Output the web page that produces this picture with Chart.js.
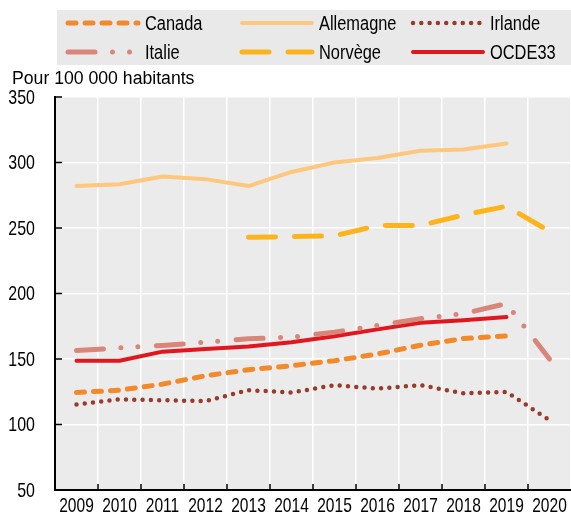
<!DOCTYPE html>
<html>
<head>
  <title>Pour 100 000 habitants</title>
  <script src="https://cdn.jsdelivr.net/npm/chart.js"></script>
  <style>
    body { margin: 0; background: white; }
    canvas { display: block; }
  </style>
</head>
<body>
  <canvas id="chart" width="571" height="517"></canvas>

  <script>
    // Data
    const years = ['2009','2010','2011','2012','2013','2014','2015','2016','2017','2018','2019','2020'];
    const canada    = [124.4, 126.2, 130.8, 137.2, 141.8, 144.9, 148.7, 153.8, 160.5, 165.6, 167.7, null];
    const allemagne = [282, 283.4, 289.3, 287.3, 282, 292.8, 300, 303.5, 308.9, 310, 314.5, null];
    const irlande   = [115.2, 119.2, 118.5, 117.9, 126.2, 124.4, 130, 127.4, 130, 123.8, 124.9, 103.3];
    const italie    = [156.4, 158.5, 160.3, 162.8, 165.4, 166.7, 170.5, 175.6, 180.8, 184.6, 192.3, 150];
    const norvege   = [null, null, null, null, 242.9, 243.4, 244.1, 251.8, 252, 259.9, 266.6, 247.5];
    const ocde33    = [148.7, 148.7, 155.6, 157.7, 159.5, 162.8, 167.4, 172.6, 177.7, 179.5, 182, null];
    const yTicks = [50, 100, 150, 200, 250, 300, 350];
    const unitLabel = 'Pour 100 000 habitants';

    const family = '"Liberation Sans", Arial, sans-serif';

    // the reference uses a narrow face: squeeze regular text sideways
    function narrowText(ctx, text, x, y, size, sx, align) {
      ctx.save();
      ctx.font = size + 'px ' + family;
      ctx.fillStyle = '#000';
      ctx.textBaseline = 'middle';
      ctx.textAlign = align;
      ctx.translate(x, y);
      ctx.scale(sx, 1);
      ctx.fillText(text, 0, 0);
      ctx.restore();
    }

    const plotBg = {
      id: 'plotBg',
      beforeDraw(chart) {
        const { ctx, chartArea: a } = chart;
        ctx.save();
        ctx.fillStyle = '#ebebeb';
        ctx.fillRect(a.left, a.top, a.right - a.left, a.bottom - a.top);
        ctx.restore();
      }
    };

    // inward tick marks, tick labels, legend box and unit label
    const extras = {
      id: 'extras',
      afterDraw(chart) {
        const { ctx, chartArea: a, scales } = chart;
        ctx.save();
        ctx.strokeStyle = '#000';
        ctx.lineWidth = 1.5;
        scales.y.ticks.forEach(t => {
          const y = scales.y.getPixelForValue(t.value);
          ctx.beginPath(); ctx.moveTo(a.left, y); ctx.lineTo(a.left + 7, y); ctx.stroke();
          narrowText(ctx, String(t.value), 35, y + 1, 21, 0.76, 'right');
        });
        const half = (scales.x.getPixelForValue(1) - scales.x.getPixelForValue(0)) / 2;
        years.forEach((yr, i) => {
          const cx = scales.x.getPixelForValue(i);
          narrowText(ctx, yr, cx, a.bottom + 16, 21, 0.74, 'center');
          if (i === 0) return;
          ctx.beginPath(); ctx.moveTo(cx - half, a.bottom); ctx.lineTo(cx - half, a.bottom - 6); ctx.stroke();
        });

        narrowText(ctx, unitLabel, 12, 79, 18, 0.98, 'left');

        // legend
        ctx.fillStyle = '#e9e9e9';
        ctx.fillRect(57, 10, 514, 55);
        const cols = [68, 242, 413];
        const rows = [23, 52];
        chart.data.datasets.forEach((ds, i) => {
          const x = cols[i % 3], y = rows[Math.floor(i / 3)];
          ctx.save();
          ctx.strokeStyle = ds.borderColor;
          ctx.lineWidth = ds.borderWidth;
          ctx.lineCap = 'round';
          ctx.setLineDash(ds.borderDash || []);
          ctx.beginPath(); ctx.moveTo(x, y); ctx.lineTo(x + 70, y); ctx.stroke();
          ctx.restore();
          narrowText(ctx, ds.label, x + 77, y + 1, 20, 0.82, 'left');
        });
        ctx.restore();
      }
    };

    const line = (label, data, color, width, dash) => ({
      label, data,
      borderColor: color,
      borderWidth: width,
      borderDash: dash,
      borderCapStyle: 'round',
      borderJoinStyle: 'round',
      pointRadius: 0,
      tension: 0,
      fill: false
    });

    new Chart(document.getElementById('chart'), {
      type: 'line',
      data: {
        labels: years,
        datasets: [
          line('Canada', canada, '#f28a2c', 5, [8, 9]),
          line('Allemagne', allemagne, '#fec77e', 4, []),
          line('Irlande', irlande, '#973c2c', 4.5, [0, 8.3]),
          line('Italie', italie, '#d9867a', 5, [27, 17.5, 0, 17, 0, 18.5]),
          line('Norvège', norvege, '#fdb41c', 5, [27, 19]),
          line('OCDE33', ocde33, '#e2161e', 4, [])
        ]
      },
      options: {
        responsive: false,
        animation: false,
        layout: { padding: { top: 97, right: 0, left: 0, bottom: 0 } },
        plugins: { legend: { display: false }, tooltip: { enabled: false } },
        scales: {
          x: {
            offset: true,
            grid: { offset: true, color: '#ffffff', lineWidth: 1.5, drawTicks: false },
            border: { color: '#000', width: 2 },
            ticks: { display: false, autoSkip: false },
            afterFit(s) { s.height = 27; }
          },
          y: {
            min: 50, max: 350,
            afterBuildTicks(s) { s.ticks = yTicks.map(v => ({ value: v })); },
            grid: { color: '#ffffff', lineWidth: 1.5, drawTicks: false },
            border: { color: '#000', width: 2 },
            ticks: { display: false },
            afterFit(s) { s.width = 55; }
          }
        }
      },
      plugins: [plotBg, extras]
    });
  </script>
</body>
</html>
